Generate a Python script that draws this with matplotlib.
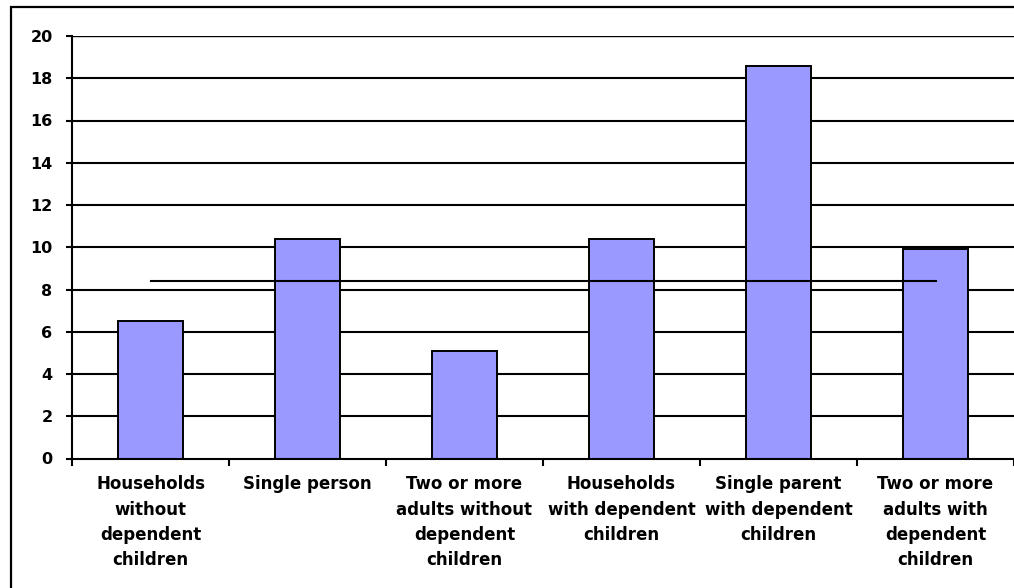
import matplotlib.pyplot as plt
from matplotlib.patches import Rectangle
import numpy as np

# Household types and their rates (%)
categories = ['Households\nwithout\ndependent\nchildren', 'Single person',
              'Two or more\nadults without\ndependent\nchildren',
              'Households\nwith dependent\nchildren',
              'Single parent\nwith dependent\nchildren',
              'Two or more\nadults with\ndependent\nchildren']
values = [6.5, 10.4, 5.1, 10.4, 18.6, 9.9]
average = 8.4

x = np.arange(len(categories))

fig = plt.figure(figsize=(10.14, 5.88), dpi=100)
ax = fig.add_axes([72 / 1014, 1 - 458.5 / 588, 1 - 72 / 1014, (458.5 - 36) / 588])

# horizontal gridlines
for y in range(2, 21, 2):
    ax.axhline(y, color='black', lw=1.5 if y < 20 else 1.0, zorder=1)

ax.bar(x, values, width=0.42, color='#9999FF', edgecolor='black', linewidth=1.4, zorder=2)
ax.plot([x[0], x[-1]], [average, average], color='black', lw=1.5, zorder=3)

ax.set_xlim(-0.5, len(categories) - 0.5)
ax.set_ylim(0, 20)
ax.set_yticks(np.arange(0, 21, 2))
ax.tick_params(axis='y', length=4, width=1.5, pad=10, labelsize=11.5)
for lbl in ax.get_yticklabels():
    lbl.set_fontweight('bold')

# ticks between categories, labels at the centres
ax.set_xticks(np.arange(-0.5, len(categories), 1.0))
ax.set_xticklabels([])
ax.tick_params(axis='x', which='major', length=5, width=1.5)
ax.set_xticks(x, minor=True)
ax.set_xticklabels(categories, minor=True, fontsize=12, fontweight='bold',
                   linespacing=1.53, va='top')
ax.tick_params(axis='x', which='minor', length=0, pad=12)

for side in ['top', 'right']:
    ax.spines[side].set_visible(False)
for side in ['left', 'bottom']:
    ax.spines[side].set_linewidth(1.5)

# outer frame
fig.patches.append(Rectangle((11 / 1014, -0.2), 1.2, 1.2 - 7 / 588, transform=fig.transFigure,
                             fill=False, edgecolor='black', lw=1.6))

fig.savefig('out.png', dpi=100)
